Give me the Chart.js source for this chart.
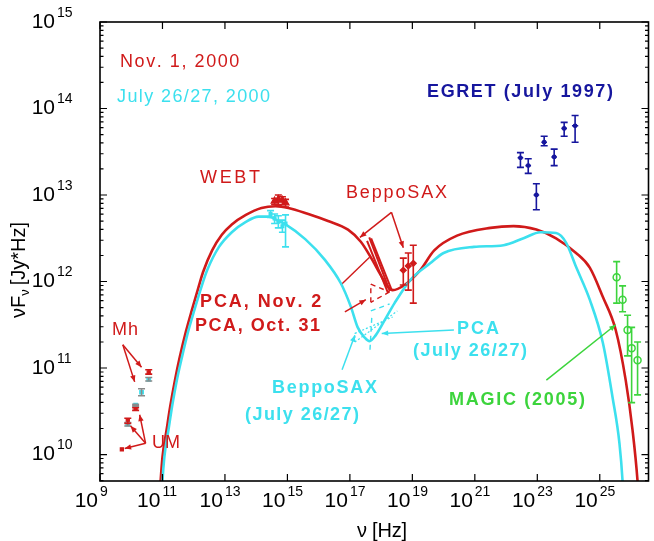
<!DOCTYPE html>
<html>
<head>
<meta charset="utf-8">
<script src="https://cdn.jsdelivr.net/npm/chart.js@4/dist/chart.umd.min.js"></script>
<style>
  html, body { margin: 0; padding: 0; background: #fff; }
  canvas { display: block; }
</style>
</head>
<body>
<canvas id="sed" width="654" height="541"></canvas>
<script>
// every value is a log10: x = log10(nu / Hz), y = log10(nuFnu / Jy*Hz)

// model SEDs
const nov1Nu = [10.90, 10.94, 11.00, 11.13, 11.25, 11.40, 11.55, 11.75, 11.95, 12.15, 12.30, 12.59, 12.90, 13.22, 13.67, 14.17, 14.62, 15.03, 15.67, 16.30, 16.94, 17.35, 17.67, 17.98, 18.21, 18.37, 18.75, 19.25, 19.70, 20.43, 21.50, 22.24, 22.97, 23.60, 24.24, 24.68, 25.10, 25.51, 25.83, 26.05, 26.21, 26.25];
const nov1Flux = [9.45, 9.69, 9.97, 10.28, 10.56, 10.86, 11.12, 11.42, 11.68, 11.93, 12.11, 12.36, 12.54, 12.66, 12.77, 12.85, 12.87, 12.85, 12.78, 12.70, 12.60, 12.46, 12.28, 12.08, 11.94, 11.90, 11.96, 12.13, 12.36, 12.53, 12.62, 12.64, 12.60, 12.50, 12.33, 12.16, 11.82, 11.44, 10.86, 10.28, 9.69, 9.45];

const julyNu = [10.97, 11.00, 11.06, 11.19, 11.31, 11.46, 11.62, 11.82, 12.03, 12.24, 12.43, 12.81, 13.22, 13.67, 14.08, 14.40, 14.71, 14.94, 15.57, 16.20, 16.71, 17.03, 17.25, 17.48, 17.63, 17.83, 18.11, 18.43, 18.94, 19.57, 20.00, 20.97, 21.92, 22.56, 23.10, 23.60, 23.92, 24.24, 24.68, 25.10, 25.41, 25.63, 25.73, 25.76];
const julyFlux = [9.45, 9.69, 9.97, 10.28, 10.56, 10.86, 11.12, 11.42, 11.68, 11.93, 12.13, 12.40, 12.57, 12.69, 12.75, 12.75, 12.70, 12.66, 12.49, 12.25, 11.98, 11.71, 11.47, 11.35, 11.31, 11.38, 11.55, 11.75, 12.02, 12.21, 12.33, 12.40, 12.42, 12.50, 12.57, 12.56, 12.45, 12.17, 11.79, 11.29, 10.66, 10.13, 9.69, 9.45];

// radio (Metsahovi / UMRAO)
const radioNovNu = [10.56, 10.14, 9.89, 9.70];
const radioNovFlux = [10.95, 10.53, 10.39, 10.06];
const radioNovLo = [10.93, 10.51, 10.36, 10.06];
const radioNovHi = [10.98, 10.54, 10.42, 10.06];
const radioJulNu = [10.56, 10.33, 10.14, 9.89];
const radioJulFlux = [10.87, 10.72, 10.57, 10.35];
const radioJulLo = [10.85, 10.68, 10.56, 10.33];
const radioJulHi = [10.89, 10.76, 10.58, 10.37];

// WEBT optical
const webtNovNu = [14.59, 14.71, 14.84, 14.94];
const webtNovFlux = [12.93, 12.95, 12.94, 12.91];
const webtNovLo = [12.89, 12.88, 12.89, 12.86];
const webtNovHi = [12.96, 13.00, 12.98, 12.95];
const webtJulNu = [14.46, 14.59, 14.71, 14.84, 14.94];
const webtJulFlux = [12.78, 12.73, 12.69, 12.64, 12.67];
const webtJulLo = [12.74, 12.67, 12.62, 12.57, 12.40];
const webtJulHi = [12.82, 12.78, 12.76, 12.71, 12.77];

// BeppoSAX hard X-ray points (Nov. 1)
const saxNu = [18.71, 18.87, 19.03];
const saxFlux = [12.13, 12.18, 12.21];
const saxLo = [11.96, 11.90, 11.75];
const saxHi = [12.27, 12.33, 12.42];

// X-ray bow ties, segments [nu0, flux0, nu1, flux1]
const saxNovBowtie = [[17.55, 12.47, 18.22, 11.87], [17.62, 12.51, 18.28, 11.89], [17.68, 12.50, 18.33, 11.91]];
const pcaNovLine = [[16.71, 11.96, 17.63, 12.28]];
const pcaOctBowtie = [[17.67, 11.97, 18.27, 11.88], [18.27, 11.88, 17.67, 11.76], [17.67, 11.76, 17.67, 11.97]];
const pcaJulBowtie = [[17.67, 11.66, 18.27, 11.74], [17.70, 11.58, 17.64, 11.19]];
const saxJulBowtie = [[17.16, 11.40, 18.37, 11.59], [17.16, 11.30, 18.52, 11.66], [17.16, 11.30, 17.16, 11.40]];

// EGRET (July 1997)
const egretNu = [22.46, 22.71, 22.97, 23.22, 23.54, 23.86, 24.21];
const egretNuLo = [22.37, 22.62, 22.88, 23.13, 23.45, 23.77, 24.11];
const egretNuHi = [22.55, 22.80, 23.06, 23.31, 23.63, 23.95, 24.31];
const egretFlux = [13.43, 13.34, 13.00, 13.61, 13.44, 13.77, 13.80];
const egretLo = [13.32, 13.25, 12.83, 13.57, 13.34, 13.68, 13.61];
const egretHi = [13.49, 13.42, 13.13, 13.68, 13.53, 13.84, 13.92];

// MAGIC (2005)
const magicNu = [25.54, 25.73, 25.89, 26.02, 26.21];
const magicFlux = [12.05, 11.79, 11.44, 11.23, 11.09];
const magicLo = [11.75, 11.65, 11.14, 10.60, 10.69];
const magicHi = [12.23, 11.95, 11.61, 11.47, 11.30];

const xTicks = [9, 11, 13, 15, 17, 19, 21, 23, 25];
const yTicks = [10, 11, 12, 13, 14, 15];

const RED = '#d01a1a';
const CYAN = '#3ce0ee';
const BLUE = '#16169e';
const GREEN = '#3cd43c';

// annotation arrows [fromNu, fromFlux, toNu, toFlux]
const arrows = [
  { c: RED, s: [9.73, 11.27, 10.33, 11.01] },
  { c: RED, s: [9.73, 11.27, 10.11, 10.84] },
  { c: RED, s: [10.46, 10.13, 10.27, 10.46] },
  { c: RED, s: [10.46, 10.13, 9.98, 10.33] },
  { c: RED, s: [10.46, 10.13, 9.79, 10.07] },
  { c: RED, s: [18.33, 12.80, 17.32, 12.51] },
  { c: RED, s: [18.33, 12.80, 18.71, 12.39] },
  { c: RED, s: [16.84, 11.65, 17.51, 11.79] },
  { c: CYAN, s: [20.33, 11.44, 18.02, 11.40] },
  { c: CYAN, s: [16.75, 10.98, 17.16, 11.38] },
  { c: GREEN, s: [23.29, 10.86, 25.51, 11.50] }
];

const labels = [
  { t: 'Nov. 1, 2000', x0: 120, x1: 238, y: 62, c: RED, f: '18px' },
  { t: 'July 26/27, 2000', x0: 117, x1: 270, y: 97, c: CYAN, f: '18px' },
  { t: 'EGRET (July 1997)', x0: 427, x1: 613, y: 92, c: BLUE, f: 'bold 18px' },
  { t: 'WEBT', x0: 200, x1: 260, y: 178, c: RED, f: '18px' },
  { t: 'BeppoSAX', x0: 346, x1: 447, y: 193, c: RED, f: '18px' },
  { t: 'PCA, Nov. 2', x0: 200, x1: 320, y: 302, c: RED, f: 'bold 18px' },
  { t: 'PCA, Oct. 31', x0: 195, x1: 320, y: 326, c: RED, f: 'bold 18px' },
  { t: 'Mh', x0: 112, x1: 138, y: 330, c: RED, f: '18px' },
  { t: 'UM', x0: 152, x1: 180, y: 443, c: RED, f: '18px' },
  { t: 'BeppoSAX', x0: 272, x1: 377, y: 388, c: CYAN, f: 'bold 18px' },
  { t: '(July 26/27)', x0: 245, x1: 359, y: 415, c: CYAN, f: 'bold 18px' },
  { t: 'PCA', x0: 457, x1: 499, y: 329, c: CYAN, f: 'bold 18px' },
  { t: '(July 26/27)', x0: 413, x1: 527, y: 351, c: CYAN, f: 'bold 18px' },
  { t: 'MAGIC (2005)', x0: 449, x1: 585, y: 400, c: GREEN, f: 'bold 18px' }
];

const FONT = '"Liberation Sans", Arial, Helvetica, sans-serif';

function pts(xs, ys) {
  return xs.map((x, i) => ({ x: x, y: ys[i] }));
}

function curve(xs, ys, color) {
  return {
    data: pts(xs, ys), showLine: true, borderColor: color, borderWidth: 2.6,
    pointRadius: 0, cubicInterpolationMode: 'monotone', fill: false
  };
}

function segs(list, color, width, dash) {
  return list.map(s => ({
    data: [{ x: s[0], y: s[1] }, { x: s[2], y: s[3] }], showLine: true,
    borderColor: color, borderWidth: width, borderDash: dash || [], pointRadius: 0
  }));
}

function markers(xs, ys, lo, hi, color, style, r, extra) {
  return Object.assign({
    data: pts(xs, ys), showLine: false, pointStyle: style, pointRadius: r,
    backgroundColor: color, borderColor: color, borderWidth: 1.2,
    yLo: lo, yHi: hi, barColor: color
  }, extra || {});
}

const datasets = [
  curve(julyNu, julyFlux, CYAN),
  curve(nov1Nu, nov1Flux, RED),
  ...segs(saxNovBowtie, RED, 2),
  ...segs(pcaNovLine, RED, 1.4),
  ...segs(pcaOctBowtie, RED, 1.4, [5, 4]),
  ...segs(pcaJulBowtie, CYAN, 1.4, [5, 4]),
  ...segs(saxJulBowtie, CYAN, 1.2, [2, 2]),
  markers(radioJulNu, radioJulFlux, radioJulLo, radioJulHi, CYAN, 'rect', 2.5, { barColor: '#8a8a8a' }),
  markers(radioNovNu, radioNovFlux, radioNovLo, radioNovHi, RED, 'rect', 2.2),
  markers(webtJulNu, webtJulFlux, webtJulLo, webtJulHi, CYAN, 'rect', 2),
  markers(webtNovNu, webtNovFlux, webtNovLo, webtNovHi, RED, 'triangle', 4),
  markers(saxNu, saxFlux, saxLo, saxHi, RED, 'rectRot', 3),
  markers(egretNu, egretFlux, egretLo, egretHi, BLUE, 'circle', 1.8, { xLo: egretNuLo, xHi: egretNuHi }),
  markers(magicNu, magicFlux, magicLo, magicHi, GREEN, 'circle', 3.5, { backgroundColor: 'rgba(255,255,255,0)', borderWidth: 1.5 })
];

const errorBars = {
  id: 'errorBars',
  afterDatasetsDraw(chart) {
    const { ctx, scales: { x, y } } = chart;
    ctx.save();
    chart.data.datasets.forEach(ds => {
      if (!ds.yLo) return;
      ctx.strokeStyle = ds.barColor;
      ctx.lineWidth = 1.6;
      ds.data.forEach((p, i) => {
        const px = x.getPixelForValue(p.x);
        const py = y.getPixelForValue(p.y);
        const y0 = y.getPixelForValue(ds.yLo[i]);
        const y1 = y.getPixelForValue(ds.yHi[i]);
        ctx.beginPath();
        if (y0 - y1 > 1) {
          ctx.moveTo(px, y0); ctx.lineTo(px, y1);
          ctx.moveTo(px - 3.5, y0); ctx.lineTo(px + 3.5, y0);
          ctx.moveTo(px - 3.5, y1); ctx.lineTo(px + 3.5, y1);
        }
        if (ds.xLo) {
          ctx.moveTo(x.getPixelForValue(ds.xLo[i]), py);
          ctx.lineTo(x.getPixelForValue(ds.xHi[i]), py);
        }
        ctx.stroke();
      });
    });
    ctx.restore();
  }
};

function drawSpaced(ctx, text, x0, x1, y) {
  const w = ctx.measureText(text).width;
  const extra = text.length > 1 ? (x1 - x0 - w) / (text.length - 1) : 0;
  let cx = x0;
  for (const ch of text) {
    ctx.fillText(ch, cx, y);
    cx += ctx.measureText(ch).width + extra;
  }
}

function drawPow(ctx, exp, xJoin, yMid) {
  ctx.font = '21px ' + FONT;
  ctx.textAlign = 'right';
  ctx.fillText('10', xJoin, yMid);
  ctx.font = '14px ' + FONT;
  ctx.textAlign = 'left';
  ctx.fillText(String(exp), xJoin + 2, yMid - 9);
}

const frame = {
  id: 'frame',
  afterDraw(chart) {
    const { ctx, chartArea: a, scales: { x, y } } = chart;
    ctx.save();
    ctx.strokeStyle = '#000';
    ctx.fillStyle = '#000';
    ctx.lineWidth = 1.6;
    ctx.strokeRect(a.left, a.top, a.right - a.left, a.bottom - a.top);

    ctx.lineWidth = 1.2;
    ctx.beginPath();
    xTicks.forEach(t => {
      const px = x.getPixelForValue(t);
      ctx.moveTo(px, a.bottom); ctx.lineTo(px, a.bottom - 7);
      ctx.moveTo(px, a.top); ctx.lineTo(px, a.top + 7);
    });
    for (let d = 9; d <= 15; d++) {
      for (let k = 1; k <= 9; k++) {
        const v = d + Math.log10(k);
        if (v < y.min || v > y.max) continue;
        const py = y.getPixelForValue(v);
        const len = k === 1 ? 7 : 3.5;
        ctx.moveTo(a.left, py); ctx.lineTo(a.left + len, py);
        ctx.moveTo(a.right, py); ctx.lineTo(a.right - len, py);
      }
    }
    ctx.stroke();

    ctx.textBaseline = 'middle';
    xTicks.forEach(t => drawPow(ctx, t, x.getPixelForValue(t) - 2, 501));
    yTicks.forEach(t => drawPow(ctx, t, 55, y.getPixelForValue(t)));

    // axis titles
    ctx.font = '20px ' + FONT;
    ctx.textAlign = 'left';
    drawSpaced(ctx, 'ν [Hz]', 357, 407, 531);

    ctx.translate(19, 262);
    ctx.rotate(-Math.PI / 2);
    ctx.textAlign = 'left';
    ctx.font = '20px ' + FONT;
    let cx = -56;
    ctx.fillText('νF', cx, 0);
    cx += ctx.measureText('νF').width;
    ctx.font = '13px ' + FONT;
    ctx.fillText('ν', cx, 6);
    cx += ctx.measureText('ν').width + 4;
    ctx.font = '20px ' + FONT;
    ctx.fillText('[Jy*Hz]', cx, 0);
    ctx.restore();

    // annotation text
    ctx.save();
    ctx.textBaseline = 'middle';
    ctx.textAlign = 'left';
    labels.forEach(l => {
      ctx.font = l.f + ' ' + FONT;
      ctx.fillStyle = l.c;
      drawSpaced(ctx, l.t, l.x0, l.x1, l.y);
    });

    // arrows
    arrows.forEach(ar => {
      const x0 = x.getPixelForValue(ar.s[0]), y0 = y.getPixelForValue(ar.s[1]);
      const x1 = x.getPixelForValue(ar.s[2]), y1 = y.getPixelForValue(ar.s[3]);
      const ang = Math.atan2(y1 - y0, x1 - x0);
      ctx.strokeStyle = ar.c;
      ctx.fillStyle = ar.c;
      ctx.lineWidth = 1.5;
      ctx.beginPath();
      ctx.moveTo(x0, y0); ctx.lineTo(x1, y1);
      ctx.stroke();
      ctx.beginPath();
      ctx.moveTo(x1, y1);
      ctx.lineTo(x1 - 7 * Math.cos(ang - 0.4), y1 - 7 * Math.sin(ang - 0.4));
      ctx.lineTo(x1 - 7 * Math.cos(ang + 0.4), y1 - 7 * Math.sin(ang + 0.4));
      ctx.closePath();
      ctx.fill();
    });
    ctx.restore();
  }
};

new Chart(document.getElementById('sed'), {
  type: 'scatter',
  data: { datasets },
  options: {
    responsive: false,
    animation: false,
    layout: { padding: { left: 100, right: 1, top: 22, bottom: 60 } },
    plugins: { legend: { display: false }, tooltip: { enabled: false } },
    scales: {
      x: { type: 'linear', min: 9, max: 26.56, display: false },
      y: { type: 'linear', min: 9.694, max: 15, display: false }
    }
  },
  plugins: [errorBars, frame]
});
</script>
</body>
</html>
